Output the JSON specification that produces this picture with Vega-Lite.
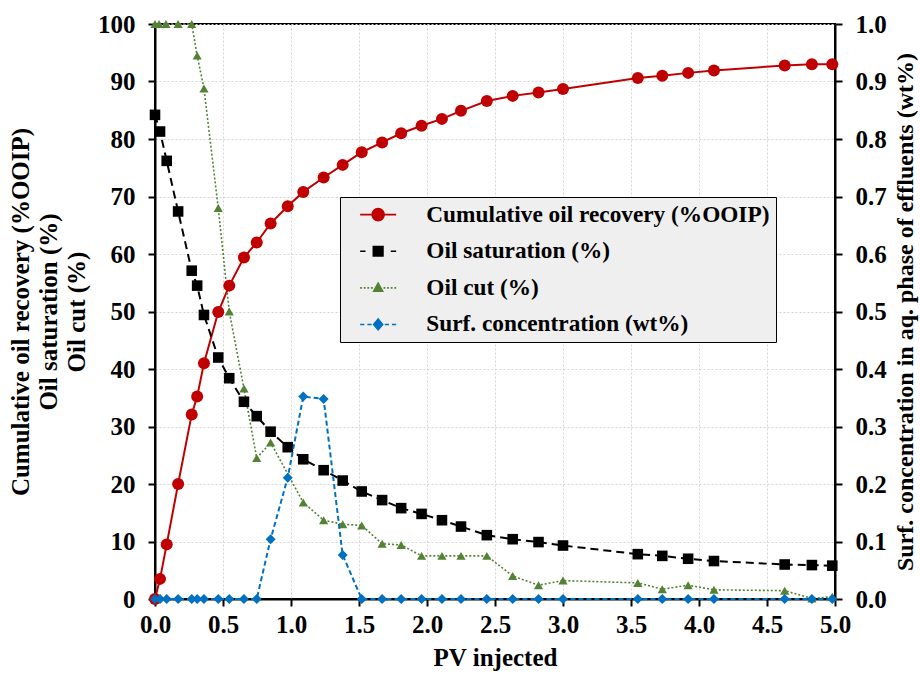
{
  "$schema": "https://vega.github.io/schema/vega-lite/v6.json",
  "width": 680,
  "height": 575,
  "autosize": {"type": "none"},
  "padding": {"left": 155, "top": 24, "right": 85, "bottom": 75},
  "background": "white",
  "config": {
    "font": "Liberation Serif",
    "view": {"stroke": "#000000", "strokeWidth": 2},
    "axis": {
      "labelFont": "Liberation Serif", "labelFontSize": 25, "labelFontWeight": "bold", "labelColor": "#000000",
      "titleFont": "Liberation Serif", "titleFontSize": 25, "titleFontWeight": "bold", "titleColor": "#000000",
      "domainColor": "#000000", "domainWidth": 2, "tickColor": "#000000", "tickWidth": 2, "tickSize": 7,
      "gridColor": "#d4d4d4", "gridDash": [2, 2], "gridWidth": 1, "labelFlush": false, "labelOverlap": false
    },
    "legend": {
      "orient": "none", "legendX": 185, "legendY": 173, "padding": 6,
      "fillColor": "#EFEFEF", "strokeColor": "#000000",
      "labelFont": "Liberation Serif", "labelFontSize": 23.3, "labelFontWeight": "bold", "labelColor": "#000000",
      "labelLimit": 600, "symbolSize": 144, "symbolStrokeWidth": 1.6, "symbolOpacity": 1, "symbolOffset": 20.5, "labelOffset": 36.5,
      "rowPadding": 12.6
    }
  },
  "data": {"values": [
    {"pv": 0, "s": "Cumulative oil recovery (%OOIP)", "v": 0},
    {"pv": 0.037, "s": "Cumulative oil recovery (%OOIP)", "v": 3.5},
    {"pv": 0.086, "s": "Cumulative oil recovery (%OOIP)", "v": 9.5},
    {"pv": 0.17, "s": "Cumulative oil recovery (%OOIP)", "v": 20.0},
    {"pv": 0.27, "s": "Cumulative oil recovery (%OOIP)", "v": 32.1},
    {"pv": 0.31, "s": "Cumulative oil recovery (%OOIP)", "v": 35.2},
    {"pv": 0.36, "s": "Cumulative oil recovery (%OOIP)", "v": 41.0},
    {"pv": 0.465, "s": "Cumulative oil recovery (%OOIP)", "v": 49.9},
    {"pv": 0.546, "s": "Cumulative oil recovery (%OOIP)", "v": 54.5},
    {"pv": 0.654, "s": "Cumulative oil recovery (%OOIP)", "v": 59.4},
    {"pv": 0.748, "s": "Cumulative oil recovery (%OOIP)", "v": 62.0},
    {"pv": 0.85, "s": "Cumulative oil recovery (%OOIP)", "v": 65.3},
    {"pv": 0.976, "s": "Cumulative oil recovery (%OOIP)", "v": 68.3},
    {"pv": 1.09, "s": "Cumulative oil recovery (%OOIP)", "v": 70.8},
    {"pv": 1.24, "s": "Cumulative oil recovery (%OOIP)", "v": 73.3},
    {"pv": 1.38, "s": "Cumulative oil recovery (%OOIP)", "v": 75.5},
    {"pv": 1.52, "s": "Cumulative oil recovery (%OOIP)", "v": 77.7},
    {"pv": 1.67, "s": "Cumulative oil recovery (%OOIP)", "v": 79.4},
    {"pv": 1.81, "s": "Cumulative oil recovery (%OOIP)", "v": 81.0},
    {"pv": 1.96, "s": "Cumulative oil recovery (%OOIP)", "v": 82.3},
    {"pv": 2.11, "s": "Cumulative oil recovery (%OOIP)", "v": 83.5},
    {"pv": 2.25, "s": "Cumulative oil recovery (%OOIP)", "v": 84.9},
    {"pv": 2.44, "s": "Cumulative oil recovery (%OOIP)", "v": 86.6},
    {"pv": 2.63, "s": "Cumulative oil recovery (%OOIP)", "v": 87.5},
    {"pv": 2.82, "s": "Cumulative oil recovery (%OOIP)", "v": 88.1},
    {"pv": 3.0, "s": "Cumulative oil recovery (%OOIP)", "v": 88.7},
    {"pv": 3.55, "s": "Cumulative oil recovery (%OOIP)", "v": 90.6},
    {"pv": 3.73, "s": "Cumulative oil recovery (%OOIP)", "v": 91.0},
    {"pv": 3.92, "s": "Cumulative oil recovery (%OOIP)", "v": 91.5},
    {"pv": 4.11, "s": "Cumulative oil recovery (%OOIP)", "v": 91.9},
    {"pv": 4.63, "s": "Cumulative oil recovery (%OOIP)", "v": 92.8},
    {"pv": 4.83, "s": "Cumulative oil recovery (%OOIP)", "v": 93.0},
    {"pv": 4.98, "s": "Cumulative oil recovery (%OOIP)", "v": 93.0},
    {"pv": 0, "s": "Oil saturation (%)", "v": 84.2},
    {"pv": 0.037, "s": "Oil saturation (%)", "v": 81.3},
    {"pv": 0.086, "s": "Oil saturation (%)", "v": 76.2},
    {"pv": 0.17, "s": "Oil saturation (%)", "v": 67.4},
    {"pv": 0.27, "s": "Oil saturation (%)", "v": 57.1},
    {"pv": 0.31, "s": "Oil saturation (%)", "v": 54.5},
    {"pv": 0.36, "s": "Oil saturation (%)", "v": 49.4},
    {"pv": 0.465, "s": "Oil saturation (%)", "v": 42.0},
    {"pv": 0.546, "s": "Oil saturation (%)", "v": 38.4},
    {"pv": 0.654, "s": "Oil saturation (%)", "v": 34.3},
    {"pv": 0.748, "s": "Oil saturation (%)", "v": 31.8},
    {"pv": 0.85, "s": "Oil saturation (%)", "v": 29.1},
    {"pv": 0.976, "s": "Oil saturation (%)", "v": 26.4},
    {"pv": 1.09, "s": "Oil saturation (%)", "v": 24.3},
    {"pv": 1.24, "s": "Oil saturation (%)", "v": 22.4},
    {"pv": 1.38, "s": "Oil saturation (%)", "v": 20.6},
    {"pv": 1.52, "s": "Oil saturation (%)", "v": 18.7},
    {"pv": 1.67, "s": "Oil saturation (%)", "v": 17.2},
    {"pv": 1.81, "s": "Oil saturation (%)", "v": 15.8},
    {"pv": 1.96, "s": "Oil saturation (%)", "v": 14.8},
    {"pv": 2.11, "s": "Oil saturation (%)", "v": 13.7},
    {"pv": 2.25, "s": "Oil saturation (%)", "v": 12.6},
    {"pv": 2.44, "s": "Oil saturation (%)", "v": 11.1},
    {"pv": 2.63, "s": "Oil saturation (%)", "v": 10.4},
    {"pv": 2.82, "s": "Oil saturation (%)", "v": 9.9},
    {"pv": 3.0, "s": "Oil saturation (%)", "v": 9.3},
    {"pv": 3.55, "s": "Oil saturation (%)", "v": 7.8},
    {"pv": 3.73, "s": "Oil saturation (%)", "v": 7.5},
    {"pv": 3.92, "s": "Oil saturation (%)", "v": 7.0},
    {"pv": 4.11, "s": "Oil saturation (%)", "v": 6.6},
    {"pv": 4.63, "s": "Oil saturation (%)", "v": 6.0},
    {"pv": 4.83, "s": "Oil saturation (%)", "v": 5.9},
    {"pv": 4.98, "s": "Oil saturation (%)", "v": 5.8},
    {"pv": 0, "s": "Oil cut (%)", "v": 100},
    {"pv": 0.03, "s": "Oil cut (%)", "v": 100},
    {"pv": 0.08, "s": "Oil cut (%)", "v": 100},
    {"pv": 0.17, "s": "Oil cut (%)", "v": 100},
    {"pv": 0.27, "s": "Oil cut (%)", "v": 100},
    {"pv": 0.31, "s": "Oil cut (%)", "v": 94.5},
    {"pv": 0.36, "s": "Oil cut (%)", "v": 88.8},
    {"pv": 0.465, "s": "Oil cut (%)", "v": 68.0},
    {"pv": 0.546, "s": "Oil cut (%)", "v": 50.0},
    {"pv": 0.654, "s": "Oil cut (%)", "v": 36.6},
    {"pv": 0.748, "s": "Oil cut (%)", "v": 24.5},
    {"pv": 0.85, "s": "Oil cut (%)", "v": 27.2},
    {"pv": 1.09, "s": "Oil cut (%)", "v": 16.8},
    {"pv": 1.24, "s": "Oil cut (%)", "v": 13.7},
    {"pv": 1.38, "s": "Oil cut (%)", "v": 13.0},
    {"pv": 1.52, "s": "Oil cut (%)", "v": 12.8},
    {"pv": 1.67, "s": "Oil cut (%)", "v": 9.6},
    {"pv": 1.81, "s": "Oil cut (%)", "v": 9.4},
    {"pv": 1.96, "s": "Oil cut (%)", "v": 7.5},
    {"pv": 2.11, "s": "Oil cut (%)", "v": 7.5},
    {"pv": 2.25, "s": "Oil cut (%)", "v": 7.5},
    {"pv": 2.44, "s": "Oil cut (%)", "v": 7.5},
    {"pv": 2.63, "s": "Oil cut (%)", "v": 4.0},
    {"pv": 2.82, "s": "Oil cut (%)", "v": 2.4},
    {"pv": 3.0, "s": "Oil cut (%)", "v": 3.2},
    {"pv": 3.55, "s": "Oil cut (%)", "v": 2.8},
    {"pv": 3.73, "s": "Oil cut (%)", "v": 1.7},
    {"pv": 3.92, "s": "Oil cut (%)", "v": 2.4},
    {"pv": 4.11, "s": "Oil cut (%)", "v": 1.6},
    {"pv": 4.63, "s": "Oil cut (%)", "v": 1.45},
    {"pv": 4.83, "s": "Oil cut (%)", "v": 0.1},
    {"pv": 4.98, "s": "Oil cut (%)", "v": 0.4},
    {"pv": 0, "s": "Surf. concentration (wt%)", "v": 0},
    {"pv": 0.037, "s": "Surf. concentration (wt%)", "v": 0},
    {"pv": 0.086, "s": "Surf. concentration (wt%)", "v": 0},
    {"pv": 0.17, "s": "Surf. concentration (wt%)", "v": 0},
    {"pv": 0.27, "s": "Surf. concentration (wt%)", "v": 0},
    {"pv": 0.31, "s": "Surf. concentration (wt%)", "v": 0},
    {"pv": 0.36, "s": "Surf. concentration (wt%)", "v": 0},
    {"pv": 0.465, "s": "Surf. concentration (wt%)", "v": 0},
    {"pv": 0.546, "s": "Surf. concentration (wt%)", "v": 0},
    {"pv": 0.654, "s": "Surf. concentration (wt%)", "v": 0},
    {"pv": 0.748, "s": "Surf. concentration (wt%)", "v": 0},
    {"pv": 0.85, "s": "Surf. concentration (wt%)", "v": 0.104},
    {"pv": 0.976, "s": "Surf. concentration (wt%)", "v": 0.211},
    {"pv": 1.09, "s": "Surf. concentration (wt%)", "v": 0.352},
    {"pv": 1.24, "s": "Surf. concentration (wt%)", "v": 0.348},
    {"pv": 1.38, "s": "Surf. concentration (wt%)", "v": 0.0765},
    {"pv": 1.52, "s": "Surf. concentration (wt%)", "v": 0},
    {"pv": 1.67, "s": "Surf. concentration (wt%)", "v": 0},
    {"pv": 1.81, "s": "Surf. concentration (wt%)", "v": 0},
    {"pv": 1.96, "s": "Surf. concentration (wt%)", "v": 0},
    {"pv": 2.11, "s": "Surf. concentration (wt%)", "v": 0},
    {"pv": 2.25, "s": "Surf. concentration (wt%)", "v": 0},
    {"pv": 2.44, "s": "Surf. concentration (wt%)", "v": 0},
    {"pv": 2.63, "s": "Surf. concentration (wt%)", "v": 0},
    {"pv": 2.82, "s": "Surf. concentration (wt%)", "v": 0},
    {"pv": 3.0, "s": "Surf. concentration (wt%)", "v": 0},
    {"pv": 3.55, "s": "Surf. concentration (wt%)", "v": 0},
    {"pv": 3.73, "s": "Surf. concentration (wt%)", "v": 0},
    {"pv": 3.92, "s": "Surf. concentration (wt%)", "v": 0},
    {"pv": 4.11, "s": "Surf. concentration (wt%)", "v": 0},
    {"pv": 4.63, "s": "Surf. concentration (wt%)", "v": 0},
    {"pv": 4.83, "s": "Surf. concentration (wt%)", "v": 0},
    {"pv": 4.98, "s": "Surf. concentration (wt%)", "v": 0}
  ]},
  "encoding": {
    "x": {
      "field": "pv", "type": "quantitative",
      "scale": {"domain": [0, 5], "nice": false},
      "axis": {"title": "PV injected", "values": [0, 0.5, 1, 1.5, 2, 2.5, 3, 3.5, 4, 4.5, 5], "format": ".1f", "labelPadding": 6, "titlePadding": 8, "grid": true}
    },
    "color": {
      "field": "s", "type": "nominal",
      "scale": {
        "domain": ["Cumulative oil recovery (%OOIP)", "Oil saturation (%)", "Oil cut (%)", "Surf. concentration (wt%)"],
        "range": ["#C00000", "#000000", "#548235", "#0070C0"]
      },
      "legend": {"title": null, "labelExpr": "datum.label + '  '"}
    }
  },
  "layer": [
    {
      "transform": [{"filter": "datum.s !== 'Surf. concentration (wt%)'"}],
      "encoding": {
        "y": {
          "field": "v", "type": "quantitative",
          "scale": {"domain": [0, 100], "nice": false},
          "axis": {
            "title": ["Cumulative oil recovery (%OOIP)", "Oil saturation (%)", "Oil cut (%)"],
            "titleLineHeight": 28, "titlePadding": 8, "labelPadding": 13,
            "values": [0, 10, 20, 30, 40, 50, 60, 70, 80, 90, 100], "grid": true
          }
        }
      },
      "layer": [
        {
          "transform": [{"filter": "datum.s === 'Cumulative oil recovery (%OOIP)'"}],
          "mark": {"type": "line", "strokeWidth": 2}
        },
        {
          "transform": [{"filter": "datum.s === 'Oil saturation (%)'"}],
          "mark": {"type": "line", "strokeWidth": 2, "strokeDash": [8, 5]}
        },
        {
          "transform": [{"filter": "datum.s === 'Oil cut (%)'"}],
          "mark": {"type": "line", "strokeWidth": 1.6, "strokeDash": [2, 2]}
        },
        {
          "transform": [{"filter": "datum.s === 'Cumulative oil recovery (%OOIP)'"}],
          "mark": {"type": "point", "filled": true, "opacity": 1, "shape": "circle", "size": 144}
        },
        {
          "transform": [{"filter": "datum.s === 'Oil saturation (%)'"}],
          "mark": {"type": "point", "filled": true, "opacity": 1, "shape": "square", "size": 112}
        },
        {
          "transform": [{"filter": "datum.s === 'Oil cut (%)'"}],
          "mark": {"type": "point", "filled": true, "opacity": 1, "shape": "triangle-up", "size": 85}
        },
        {
          "transform": [{"filter": "false"}],
          "mark": {"type": "point", "filled": true, "opacity": 1, "size": 144},
          "encoding": {
            "shape": {
              "field": "s", "type": "nominal", "legend": {"title": null, "labelExpr": "datum.label + '  '"},
              "scale": {
                "domain": ["Cumulative oil recovery (%OOIP)", "Oil saturation (%)", "Oil cut (%)", "Surf. concentration (wt%)"],
                "range": [
                  "M-3,0H3M1,0A1,1,0,1,1,-1,0A1,1,0,1,1,1,0Z",
                  "M-3,0H-2.1M2.1,0H3M-0.8,-0.8H0.8V0.8H-0.8Z",
                  "M-3,0H-2.7M-2.4,0H-2.1M-1.8,0H-1.5M-1.2,0H-0.9M0.9,0H1.2M1.5,0H1.8M2.1,0H2.4M2.7,0H3M0,-0.8L0.75,0.55H-0.75Z",
                  "M-3,0H-2.3M-1.8,0H-1.1M1.1,0H1.8M2.3,0H3M0,-0.9L0.75,0L0,0.9L-0.75,0Z"
                ]
              }
            }
          }
        }
      ]
    },
    {
      "transform": [{"filter": "datum.s === 'Surf. concentration (wt%)'"}],
      "encoding": {
        "y": {
          "field": "v", "type": "quantitative",
          "scale": {"domain": [0, 1], "nice": false},
          "axis": {
            "orient": "right",
            "title": "Surf. concentration in aq. phase of effluents (wt%)",
            "titleAngle": 270, "titleBaseline": "top", "titlePadding": 7, "titleFontSize": 24, "labelPadding": 13,
            "values": [0, 0.1, 0.2, 0.3, 0.4, 0.5, 0.6, 0.7, 0.8, 0.9, 1], "format": ".1f", "grid": false
          }
        }
      },
      "layer": [
        {"mark": {"type": "line", "strokeWidth": 2, "strokeDash": [5, 3]}},
        {"mark": {"type": "point", "filled": true, "opacity": 1, "shape": "diamond", "size": 100}}
      ]
    }
  ],
  "resolve": {"scale": {"y": "independent"}, "axis": {"y": "independent"}}
}
